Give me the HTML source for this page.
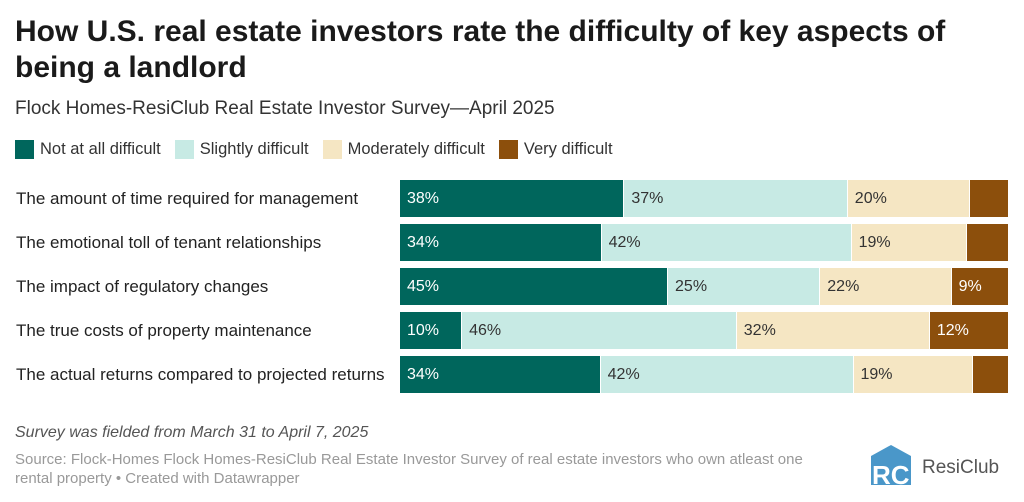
<!DOCTYPE html>
<html><head><meta charset="utf-8"><style>
body{margin:0;width:1024px;height:502px;background:#fff;font-family:"Liberation Sans",sans-serif;position:relative;overflow:hidden;color:#222}
.t{position:absolute;left:15px;top:14px;font-size:30px;font-weight:bold;line-height:36px;width:1000px;color:#1a1a1a}
.s{position:absolute;left:15px;top:98px;font-size:19px;color:#333}
.lg{position:absolute;left:15px;top:140px;font-size:16.5px;color:#333;display:flex;align-items:center}
.lg i{display:inline-block;width:19px;height:19px;margin-right:6px}
.lg span{margin-right:14px;display:flex;align-items:center}
.row{position:absolute;left:0;width:1024px;height:37px}
.lab{position:absolute;left:16px;top:9px;font-size:17px;color:#222}
.bar{position:absolute;left:400px;width:608px;height:37px;display:flex}
.bar div{height:100%;box-sizing:border-box;border-right:1px solid #fff;font-size:16px;line-height:37px;padding-left:7px;color:#333;overflow:hidden;white-space:nowrap}
.a{background:#00665c;color:#fff!important}.b{background:#c7eae4}.c{background:#f5e6c3}.d{background:#8c4f0c;color:#fff!important;border-right:none!important}
.n{position:absolute;left:15px;top:424px;font-size:16px;font-style:italic;color:#555}
.src{position:absolute;left:15px;top:450px;font-size:15px;color:#999;line-height:19px;width:840px}
</style></head><body>
<div class="t">How U.S. real estate investors rate the difficulty of key aspects of<br>being a landlord</div>
<div class="s">Flock Homes-ResiClub Real Estate Investor Survey—April 2025</div>
<div class="lg"><span><i style="background:#00665c"></i>Not at all difficult</span><span><i style="background:#c7eae4"></i>Slightly difficult</span><span><i style="background:#f5e6c3"></i>Moderately difficult</span><span><i style="background:#8c4f0c"></i>Very difficult</span></div>

<div class="row" style="top:180px"><div class="lab">The amount of time required for management</div><div class="bar"><div class="a" style="flex:228">38%</div><div class="b" style="flex:227">37%</div><div class="c" style="flex:120">20%</div><div class="d" style="flex:33"></div></div></div>
<div class="row" style="top:224px"><div class="lab">The emotional toll of tenant relationships</div><div class="bar"><div class="a" style="flex:204">34%</div><div class="b" style="flex:255">42%</div><div class="c" style="flex:113">19%</div><div class="d" style="flex:36"></div></div></div>
<div class="row" style="top:268px"><div class="lab">The impact of regulatory changes</div><div class="bar"><div class="a" style="flex:274">45%</div><div class="b" style="flex:152">25%</div><div class="c" style="flex:130">22%</div><div class="d" style="flex:52">9%</div></div></div>
<div class="row" style="top:312px"><div class="lab">The true costs of property maintenance</div><div class="bar"><div class="a" style="flex:57">10%</div><div class="b" style="flex:281">46%</div><div class="c" style="flex:195">32%</div><div class="d" style="flex:75">12%</div></div></div>
<div class="row" style="top:356px"><div class="lab">The actual returns compared to projected returns</div><div class="bar"><div class="a" style="flex:203">34%</div><div class="b" style="flex:258">42%</div><div class="c" style="flex:117">19%</div><div class="d" style="flex:30"></div></div></div>

<div class="n">Survey was fielded from March 31 to April 7, 2025</div>
<div class="src">Source: Flock-Homes Flock Homes-ResiClub Real Estate Investor Survey of real estate investors who own atleast one<br>rental property • Created with Datawrapper</div>
<svg style="position:absolute;left:871px;top:445px" width="40" height="40" viewBox="0 0 40 40">
<polygon points="0,11 20,0 40,11 40,40 0,40" fill="#4a97c9"/>
<text x="1" y="39" font-family="Liberation Sans" font-weight="bold" font-size="26" fill="#fff">RC</text>
</svg>
<div style="position:absolute;left:922px;top:457px;font-size:19px;color:#555">ResiClub</div>
</body></html>
